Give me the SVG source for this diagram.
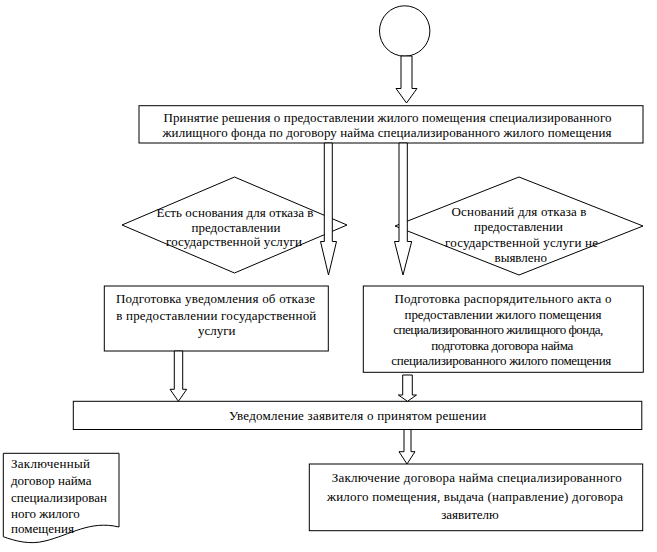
<svg xmlns="http://www.w3.org/2000/svg" width="657" height="552" viewBox="0 0 657 552">
<style>
.shape{fill:#fff;stroke:#000;stroke-width:1}
.arrow{fill:#fff;stroke:#000;stroke-width:1;stroke-linejoin:miter}
text{font-family:"Liberation Serif","Times New Roman",serif;font-size:13px;fill:#000}
.c{text-anchor:middle}
</style>
<rect width="657" height="552" fill="#fff"/>
<g id="start">
<circle class="shape" cx="404.7" cy="31" r="25.2"/>
</g>
<g id="decision-box">
<rect class="shape" x="139" y="105.7" width="504" height="37.3"/>
<text class="c" x="387.5" y="122" textLength="448" lengthAdjust="spacing">Принятие решения о предоставлении жилого помещения специализированного</text>
<text class="c" x="387" y="136.5" textLength="449" lengthAdjust="spacing">жилищного фонда по договору найма специализированного жилого помещения</text>
</g>
<g id="refusal-condition">
<polygon class="shape" points="122,225 234.5,177 347,225 234.5,273"/>
<text class="c" x="235" y="217" textLength="157" lengthAdjust="spacing">Есть основания для отказа в</text>
<text class="c" x="236" y="231.5">предоставлении</text>
<text class="c" x="234" y="246" textLength="136" lengthAdjust="spacing">государственной услуги</text>
</g>
<g id="approval-condition">
<polygon class="shape" points="395,226 519,177 643,226 519,275"/>
<text class="c" x="519" y="215.7" textLength="135" lengthAdjust="spacing">Оснований для отказа в</text>
<text class="c" x="518.5" y="231.3">предоставлении</text>
<text class="c" x="521.5" y="247.3" textLength="153" lengthAdjust="spacing">государственной услуги не</text>
<text class="c" x="520.8" y="261.7">выявлено</text>
</g>
<g id="refusal-notice">
<rect class="shape" x="104.3" y="286" width="224" height="65"/>
<text class="c" x="215.5" y="303.3" textLength="199" lengthAdjust="spacing">Подготовка уведомления об отказе</text>
<text class="c" x="216.3" y="319.5" textLength="200" lengthAdjust="spacing">в предоставлении государственной</text>
<text class="c" x="216.7" y="335">услуги</text>
</g>
<g id="act-preparation">
<rect class="shape" x="363.3" y="286" width="280" height="86.3"/>
<text class="c" x="503" y="303" textLength="217" lengthAdjust="spacing">Подготовка распорядительного акта о</text>
<text class="c" x="503" y="318.8" textLength="197" lengthAdjust="spacing">предоставлении жилого помещения</text>
<text class="c" x="498.3" y="334.3" textLength="210" lengthAdjust="spacing">специализированного жилищного фонда,</text>
<text class="c" x="502.2" y="349.8" textLength="142" lengthAdjust="spacing">подготовка договора найма</text>
<text class="c" x="501.3" y="365.2" textLength="220" lengthAdjust="spacing">специализированного жилого помещения</text>
</g>
<g id="applicant-notice">
<rect class="shape" x="73.3" y="401.3" width="568.5" height="28.2"/>
<text class="c" x="357.6" y="420" textLength="257" lengthAdjust="spacing">Уведомление заявителя о принятом решении</text>
</g>
<g id="contract-conclusion">
<rect class="shape" x="309.3" y="464" width="333.4" height="66.7"/>
<text class="c" x="476.7" y="482.3" textLength="290" lengthAdjust="spacing">Заключение договора найма специализированного</text>
<text class="c" x="475" y="500.7" textLength="296" lengthAdjust="spacing">жилого помещения, выдача (направление) договора</text>
<text class="c" x="470" y="519">заявителю</text>
</g>
<g id="contract-document">
<path class="shape" d="M3.3,453.3 H119 V527 C90,520 70,535 45,541 C30,545 15,541 3.3,536.7 Z"/>
<text x="11" y="468.3" textLength="79" lengthAdjust="spacing">Заключенный</text>
<text x="11" y="485">договор найма</text>
<text x="11" y="501.7" textLength="96" lengthAdjust="spacing">специализирован</text>
<text x="11" y="517.7">ного жилого</text>
<text x="11" y="533.3">помещения</text>
</g>
<g id="connectors">
<polygon class="arrow" points="401,56 412,56 412,88.5 417,88.5 406.5,103 396,88.5 401,88.5"/>
<polygon class="arrow" points="324.3,143 332.3,143 332.3,241.5 336.5,241.5 328.5,275 320.5,241.5 324.3,241.5"/>
<polygon class="arrow" points="399,143 407.3,143 407.3,241.5 411.7,241.5 403,275 394.5,241.5 399,241.5"/>
<polygon class="arrow" points="174.3,351 182.7,351 182.7,389.3 186.7,389.3 178.4,401.3 170,389.3 174.3,389.3"/>
<polygon class="arrow" points="402.7,375 412.3,375 412.3,395 416.5,395 407.5,401.3 398.3,395 402.7,395"/>
<polygon class="arrow" points="404,429.5 411,429.5 411,451.7 415,451.7 407,464 399,451.7 404,451.7"/>
</g>
</svg>
